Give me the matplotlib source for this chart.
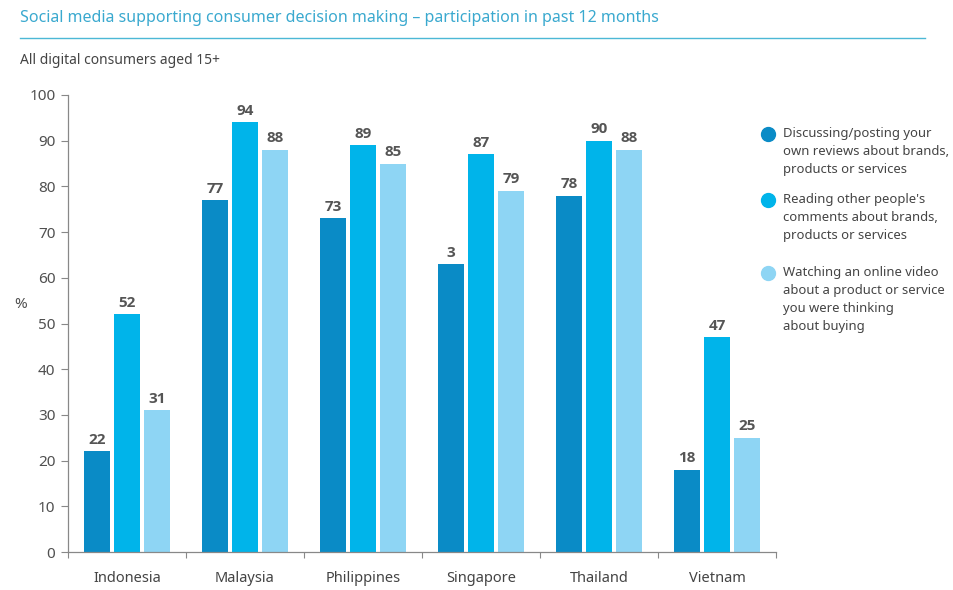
import numpy as np
import matplotlib.pyplot as plt
from matplotlib.lines import Line2D

plt.rcParams['font.family'] = ['Noto Sans', 'DejaVu Sans']

countries = ["Indonesia", "Malaysia", "Philippines", "Singapore", "Thailand", "Vietnam"]
discussing = [22, 77, 73, 63, 78, 18]
reading = [52, 94, 89, 87, 90, 47]
watching = [31, 88, 85, 79, 88, 25]
# labels as printed in the source (Singapore's first label reads "3")
discussing_labels = ["22", "77", "73", "3", "78", "18"]
reading_labels = [str(v) for v in reading]
watching_labels = [str(v) for v in watching]

series_names = [
    "Discussing/posting your\nown reviews about brands,\nproducts or services",
    "Reading other people's\ncomments about brands,\nproducts or services",
    "Watching an online video\nabout a product or service\nyou were thinking\nabout buying",
]
colors = ["#0a8bc6", "#00b4ea", "#8ed5f4"]

fig = plt.figure(figsize=(9.54, 5.9), dpi=100)
ax = fig.add_axes([68 / 954, 1 - 552 / 590, 708 / 954, 457 / 590])

x = np.arange(len(countries))
w = 0.22
step = 0.254
text_col = "#555555"
for i, (vals, labs) in enumerate([(discussing, discussing_labels),
                                  (reading, reading_labels),
                                  (watching, watching_labels)]):
    pos = x + (i - 1) * step
    ax.bar(pos, vals, width=w, color=colors[i], zorder=2)
    for p, v, l in zip(pos, vals, labs):
        ax.text(p, v + 1.0, l, ha="center", va="bottom", fontsize=11,
                fontweight="bold", family=["Open Sans", "DejaVu Sans"], color=text_col)

ax.set_xlim(-0.5, len(countries) - 0.5)
ax.set_ylim(0, 100)
ax.set_yticks(range(0, 101, 10))
ax.set_xticks(np.arange(-0.5, len(countries), 1))
ax.set_xticklabels([])
ax.set_xticks(x, minor=True)
ax.set_xticklabels(countries, minor=True)
ax.tick_params(axis="x", which="minor", length=0, pad=14, labelsize=10.5, labelcolor="#444444")
ax.tick_params(axis="x", which="major", length=4, direction="out", color="#888888")
ax.tick_params(axis="y", length=5, color="#888888", labelsize=11, labelcolor="#505050", pad=4)
for s in ["top", "right"]:
    ax.spines[s].set_visible(False)
for s in ["left", "bottom"]:
    ax.spines[s].set_color("#888888")
    ax.spines[s].set_linewidth(0.9)

fig.text(14 / 954, 1 - 305 / 590, "%", fontsize=11, color="#505050", va="center")

fig.text(20 / 954, 1 - 18 / 590, "Social media supporting consumer decision making \u2013 participation in past 12 months",
         fontsize=11.5, color="#3aa9cf", va="center")
fig.add_artist(Line2D([20 / 954, 925 / 954], [1 - 38 / 590, 1 - 38 / 590],
                      color="#4cb8d6", lw=1.0))
fig.text(20 / 954, 1 - 60 / 590, "All digital consumers aged 15+", fontsize=10,
         color="#444444", va="center")

# legend drawn by hand to match layout
leg_y = [134, 200, 273]
for yy, name, c in zip(leg_y, series_names, colors):
    fig.add_artist(Line2D([768 / 954], [1 - yy / 590], marker="o", markersize=10,
                          color=c, linestyle="none"))
    fig.text(783 / 954, 1 - (yy - 7) / 590, name, fontsize=9.4, color="#444444",
             va="top", linespacing=1.5)

fig.savefig("out.png", dpi=100)
